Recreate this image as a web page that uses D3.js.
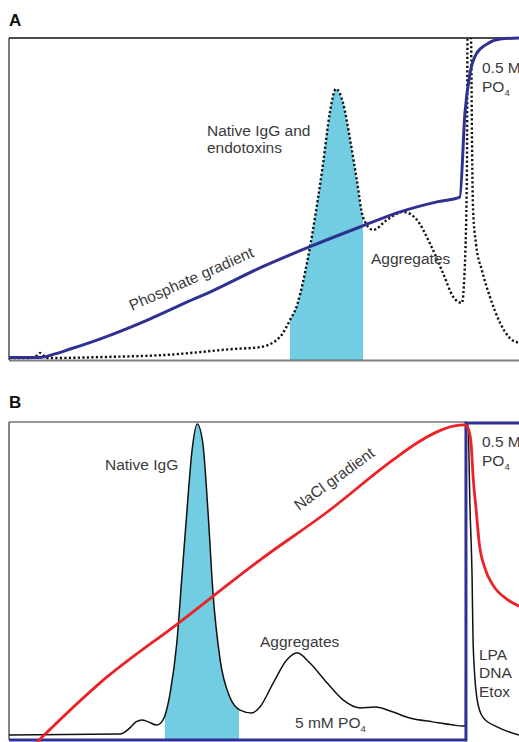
<!DOCTYPE html>
<html>
<head>
<meta charset="utf-8">
<script src="https://cdn.jsdelivr.net/npm/d3@7"></script>
<style>
body{margin:0;background:#fff;}
svg{display:block;font-family:"Liberation Sans",Arial,Helvetica,sans-serif;}
.lbl{font-size:15.5px;fill:#3a3a3a;}
.panel{font-size:17px;font-weight:bold;fill:#111;}
</style>
</head>
<body>
<svg id="chart" width="519" height="742"></svg>
<script>
// ---- panel A : phosphate gradient elution (UV trace dotted) ----
var volA = [0, 4.1, 5.3, 6.1, 6.9, 7.6, 17.8, 31, 43.9, 49.2, 53.1, 55.1, 56.5, 57.6, 59.6, 61.6, 62.9, 64.1, 65.5, 66.9, 68.2, 69.4, 71.4, 74.1, 77.3, 80, 82.5, 85.1, 87.1, 88.8, 89.4, 89.8, 89.9, 90.2, 90.6, 90.8, 91, 91.6, 92.7, 94.3, 96.3, 98.2, 100];
var uvA  = [0.6, 0.6, 1.2, 2.2, 1.2, 0.6, 0.9, 1.6, 3.4, 4.0, 7.1, 12.4, 17.1, 23.9, 40.4, 61.2, 76.7, 84.2, 79.8, 68.3, 55.9, 44.4, 40.4, 43.5, 46, 43.5, 36.3, 27, 19.6, 17.7, 30.1, 61.2, 99.4, 108.7, 99.4, 65.2, 46.6, 35.7, 28, 19.6, 11.5, 6.8, 5.3];
var phosVolA = [0, 6.1, 9, 12, 17.8, 27.6, 34.1, 39.4, 49.2, 58.4, 68.8, 76.7, 83.9, 88.4, 89.4, 90.4, 91.6, 93.7, 96.3, 100];
var phosA    = [0.8, 0.8, 1.9, 3.4, 6.5, 12.7, 17.4, 21.1, 28.6, 34.8, 41.3, 46, 49.1, 50.6, 76.7, 89.1, 95, 98.1, 99.7, 100];
var poolA = [55.1, 69.4];

// ---- panel B : NaCl gradient at 5 mM PO4, then 0.5 M PO4 strip ----
var volB = [0, 21.8, 23.7, 24.9, 26.1, 27.3, 29, 30.2, 31.6, 32.9, 33.9, 34.9, 35.9, 36.9, 38, 39, 40, 41.4, 43.3, 45.3, 47.6, 49.2, 51.8, 54.5, 56.5, 59, 62.4, 65.5, 68.8, 71.8, 75.3, 78.6, 83.1, 87.1, 89, 89.5, 89.7, 90, 90.4, 90.8, 91, 91.8, 92.9, 95.7, 100];
var uvB  = [1.6, 1.9, 3.8, 5.7, 6.3, 5.7, 4.7, 6.3, 14.8, 30.5, 51.3, 72.3, 91.2, 99.4, 93.4, 72.3, 46.2, 25.2, 13.5, 9.4, 8.5, 10.4, 17.9, 25.2, 27.4, 24.2, 17.9, 12.6, 10.1, 10.4, 8.8, 6.9, 5.7, 4.7, 4.4, 4.4, 99.7, 99.7, 72.3, 51.3, 30.5, 12.6, 7.2, 4.1, 1.6];
var naclVolB = [5.5, 17.8, 33.5, 49.2, 62.4, 75.3, 80, 83.9, 87.1, 89.4, 90, 90.6, 91, 91.6, 92.2, 93.3, 94.9, 97.6, 100];
var naclB    = [-0.6, 17.9, 37.1, 56.6, 71.7, 88.1, 93.4, 96.9, 98.7, 99.1, 98.1, 93.4, 82.7, 72.3, 61.9, 54.1, 48.7, 44.3, 42.1];
var phosVolB = [0, 89.6, 89.6, 100];
var phosB    = [0, 0, 99.7, 99.7];
var poolB = [30.6, 45.1];

var blue = "#2e3192", red = "#ec2227", cyan = "#72cde2";

var svg = d3.select("#chart");
var x = d3.scaleLinear().domain([0, 100]).range([9, 519]);
var yA = d3.scaleLinear().domain([0, 100]).range([360, 38]);
var yB = d3.scaleLinear().domain([0, 100]).range([740, 422]);

var defs = svg.append("defs");
defs.append("clipPath").attr("id", "frameA").append("rect")
    .attr("x", x(0)).attr("y", yA(100)).attr("width", x(100) - x(0)).attr("height", yA(0) - yA(100));
defs.append("clipPath").attr("id", "poolClipA").append("rect")
    .attr("x", x(poolA[0])).attr("y", yA(100)).attr("width", x(poolA[1]) - x(poolA[0])).attr("height", yA(0) - yA(100));
defs.append("clipPath").attr("id", "poolClipB").append("rect")
    .attr("x", x(poolB[0])).attr("y", yB(100)).attr("width", x(poolB[1]) - x(poolB[0])).attr("height", yB(0) - yB(100));

function lineFor(y, curve){
  return d3.line().x(d => x(d[0])).y(d => y(d[1])).curve(curve || d3.curveMonotoneX);
}
function areaFor(y){
  return d3.area().x(d => x(d[0])).y0(y(0)).y1(d => y(d[1])).curve(d3.curveMonotoneX);
}

// ===== panel A =====
var gA = svg.append("g");
gA.append("text").attr("class", "panel").attr("x", 9).attr("y", 26).text("A");

gA.append("path").datum(d3.zip(volA, uvA))
  .attr("clip-path", "url(#poolClipA)")
  .attr("fill", cyan)
  .attr("d", areaFor(yA));

gA.append("line").attr("x1", x(0)).attr("x2", x(100)).attr("y1", yA(100)).attr("y2", yA(100))
  .attr("stroke", "#111").attr("stroke-width", 1.3);
gA.append("line").attr("x1", x(0)).attr("x2", x(0)).attr("y1", yA(100)).attr("y2", yA(0))
  .attr("stroke", "#222").attr("stroke-width", 1.2);
gA.append("line").attr("x1", x(0)).attr("x2", x(100)).attr("y1", yA(0) + 0.5).attr("y2", yA(0) + 0.5)
  .attr("stroke", "#555").attr("stroke-opacity", 0.75).attr("stroke-width", 2);

gA.append("path").datum(d3.zip(volA, uvA))
  .attr("clip-path", "url(#frameA)")
  .attr("fill", "none")
  .attr("stroke", "#111")
  .attr("stroke-width", 2.4)
  .attr("stroke-dasharray", "2.2,2.3")
  .attr("d", lineFor(yA));

gA.append("path").datum(d3.zip(phosVolA, phosA))
  .attr("fill", "none")
  .attr("stroke", blue)
  .attr("stroke-width", 3)
  .attr("d", lineFor(yA));

var nA = gA.append("text").attr("class", "lbl");
nA.append("tspan").attr("x", 207).attr("y", 136).text("Native IgG and");
nA.append("tspan").attr("x", 207).attr("y", 153).text("endotoxins");
gA.append("text").attr("class", "lbl").attr("x", 371).attr("y", 264).text("Aggregates");
gA.append("text").attr("class", "lbl")
  .attr("transform", "translate(132,311) rotate(-24)").text("Phosphate gradient");
gA.append("text").attr("class", "lbl").attr("x", 482).attr("y", 73).text("0.5 M");
var poA = gA.append("text").attr("class", "lbl").attr("x", 482).attr("y", 92).text("PO");
poA.append("tspan").attr("font-size", "9.5px").attr("dy", 4).text("4");

// ===== panel B =====
var gB = svg.append("g");
gB.append("text").attr("class", "panel").attr("x", 9).attr("y", 408).text("B");

gB.append("path").datum(d3.zip(volB, uvB))
  .attr("clip-path", "url(#poolClipB)")
  .attr("fill", cyan)
  .attr("d", areaFor(yB));

gB.append("line").attr("x1", x(0)).attr("x2", x(89.6)).attr("y1", yB(100)).attr("y2", yB(100))
  .attr("stroke", "#333").attr("stroke-width", 1.2);
gB.append("line").attr("x1", x(0)).attr("x2", x(0)).attr("y1", yB(100)).attr("y2", yB(0))
  .attr("stroke", "#333").attr("stroke-width", 1.2);

gB.append("path").datum(d3.zip(volB, uvB))
  .attr("fill", "none")
  .attr("stroke", "#111")
  .attr("stroke-width", 1.5)
  .attr("d", lineFor(yB));

gB.append("path").datum(d3.zip(phosVolB, phosB))
  .attr("fill", "none")
  .attr("stroke", blue)
  .attr("stroke-width", 3)
  .attr("d", lineFor(yB, d3.curveLinear));

gB.append("path").datum(d3.zip(naclVolB, naclB))
  .attr("fill", "none")
  .attr("stroke", red)
  .attr("stroke-width", 2.8)
  .attr("d", lineFor(yB));

gB.append("text").attr("class", "lbl").attr("x", 105).attr("y", 470).text("Native IgG");
gB.append("text").attr("class", "lbl").attr("x", 260).attr("y", 647).text("Aggregates");
gB.append("text").attr("class", "lbl")
  .attr("transform", "translate(299,511) rotate(-36)").text("NaCl gradient");
var mm = gB.append("text").attr("class", "lbl").attr("x", 295).attr("y", 728).text("5 mM PO");
mm.append("tspan").attr("font-size", "9.5px").attr("dy", 4).text("4");
gB.append("text").attr("class", "lbl").attr("x", 482).attr("y", 447).text("0.5 M");
var poB = gB.append("text").attr("class", "lbl").attr("x", 482).attr("y", 466).text("PO");
poB.append("tspan").attr("font-size", "9.5px").attr("dy", 4).text("4");
var lpa = gB.append("text").attr("class", "lbl");
lpa.append("tspan").attr("x", 479).attr("y", 660).text("LPA");
lpa.append("tspan").attr("x", 479).attr("y", 678).text("DNA");
lpa.append("tspan").attr("x", 479).attr("y", 697).text("Etox");
</script>
</body>
</html>
